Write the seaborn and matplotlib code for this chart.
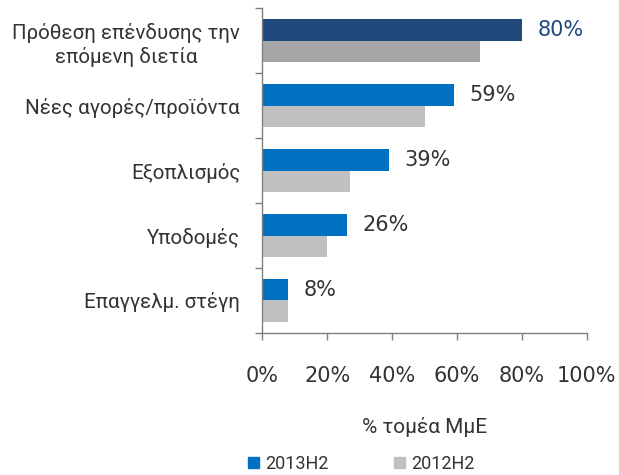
import pandas as pd
import numpy as np
import seaborn as sns
sns.set_theme(style='ticks')
import matplotlib.pyplot as plt
from matplotlib.ticker import FixedLocator
from matplotlib.patches import Patch

plt.rcParams['font.family'] = ['DejaVu Sans']

categories = ['Πρόθεση επένδυσης την\nεπόμενη διετία', 'Νέες αγορές/προϊόντα',
              'Εξοπλισμός', 'Υποδομές', 'Επαγγελμ. στέγη']
vals_2013 = [80, 59, 39, 26, 8]
vals_2012 = [67, 50, 27, 20, 8]
series = ['2013H2', '2012H2']
xticks = [0, 20, 40, 60, 80, 100]

df = pd.DataFrame({
    'cat': categories * 2,
    'val': vals_2013 + vals_2012,
    'period': [series[0]] * 5 + [series[1]] * 5,
})

txt = '#333333'
fig = plt.figure(figsize=(6.19, 4.75), dpi=100)
ax = fig.add_axes([0.424, 0.299, 0.524, 0.684])

sns.barplot(data=df, y='cat', x='val', hue='period', orient='h', ax=ax,
            palette=['#0070C0', '#C0C0C0'], width=0.66, saturation=1,
            legend=False, linewidth=0)

# first category highlighted
blue_bars = ax.containers[0]
gray_bars = ax.containers[1]
blue_bars[0].set_facecolor('#1F497D')
gray_bars[0].set_facecolor('#A6A6A6')

for i, (b, v) in enumerate(zip(blue_bars, vals_2013)):
    y = b.get_y() + b.get_height() / 2
    ax.text(v + 4.7, y, f'{v}%', va='center', ha='left', fontsize=15,
            color='#1F497D' if i == 0 else txt)

ax.set_xlim(0, 100)
ax.set_ylim(4.5, -0.5)
ax.set_xticks(xticks)
ax.set_xticklabels([f'{t}%' for t in xticks], fontsize=15, color=txt)
ax.tick_params(axis='x', length=5, pad=19, color='#808080', width=1)

ax.set_yticks(range(len(categories)))
ax.set_yticklabels(categories, fontsize=14.8, color=txt, family='Roboto',
                   multialignment='center', linespacing=1.25)
ax.tick_params(axis='y', which='major', length=0, pad=16)
ax.yaxis.set_minor_locator(FixedLocator(np.arange(-0.5, 5, 1)))
ax.tick_params(axis='y', which='minor', length=5, color='#808080', width=1)

ax.set_xlabel('% τομέα ΜμΕ', fontsize=15, color=txt, family='Roboto', labelpad=22)
ax.set_ylabel('')

for s in ['top', 'right']:
    ax.spines[s].set_visible(False)
for s in ['left', 'bottom']:
    ax.spines[s].set_color('#808080')
    ax.spines[s].set_linewidth(1)

handles = [Patch(color='#0070C0'), Patch(color='#C0C0C0')]
fig.legend(handles, series, loc='center', bbox_to_anchor=(0.584, 0.024),
           ncol=2, frameon=False, handlelength=0.6, handleheight=0.6,
           columnspacing=3.6, handletextpad=0.35, labelcolor=txt,
           prop={'family': 'Roboto', 'size': 13})

fig.savefig('out.png', dpi=100)
